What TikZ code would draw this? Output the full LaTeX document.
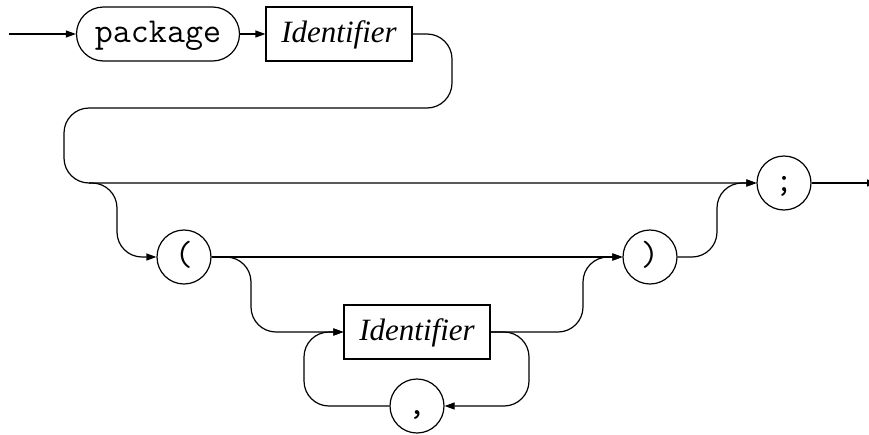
\documentclass[tikz,border=0pt]{standalone}
\usepackage{fontspec}
\newfontfamily\idfont{Liberation Serif}
\usetikzlibrary{arrows.meta}
\begin{document}
\begin{tikzpicture}[x=1pt, y=-1pt, line width=1.2pt,
  >={Triangle[length=10pt,width=7pt]},
  txt/.style={text height=22pt, text depth=6pt, inner sep=0pt},
  term/.style={txt, draw, circle, minimum size=54pt,
    font=\ttfamily\fontsize{35}{35}\selectfont},
  keyword/.style={txt, draw, rounded corners=27pt, minimum width=163pt,
    minimum height=54pt, font=\ttfamily\fontsize{35}{35}\selectfont},
  nonterm/.style={txt, draw, rectangle, minimum width=146pt,
    minimum height=54pt, font=\idfont\itshape\fontsize{31}{31}\selectfont},
  rail/.style={rounded corners=25pt}]
  \useasboundingbox (0,0) rectangle (869,434);
  \clip (0,0) rectangle (869,434);

  % symbols of the rule
  \node[keyword] (pkg)   at (158,34)  {package};
  \node[nonterm] (id1)   at (339,34)  {Identifier};
  \node[term]    (semi)  at (784,183) {;};
  \node[term]    (lp)    at (184,257) {(};
  \node[term]    (rp)    at (650,257) {)};
  \node[nonterm] (id2)   at (417,332) {Identifier};
  \node[term]    (comma) at (417,406) {,};

  \coordinate (in)  at (9,34);
  \coordinate (out) at (877,183);
  \coordinate (j1)  at (89,183);

  % main track
  \draw[->] (in) -- (pkg);
  \draw[->] (pkg) -- (id1);
  \draw[->, rail] (id1.east) -- (452,34) -- (452,108) -- (64,108)
    -- (64,183) -- (semi.west);
  \draw[->] (semi) -- (out);

  % optional parameter list
  \draw[->, rail] (j1) -- (117,183) -- (117,257) -- (lp.west);
  \draw[->] (lp) -- (rp);
  \draw[->, rail] (lp.east) -- (251,257) -- (251,332) -- (id2.west);
  \draw[->, rail] (id2.east) -- (583,332) -- (583,257) -- (rp.west);
  \draw[->, rail] (rp.east) -- (717,257) -- (717,183) -- (semi.west);

  % comma separated repetition
  \draw[->, rail] (id2.east) -- (529,332) -- (529,406) -- (comma.east);
  \draw[->, rail] (comma.west) -- (304,406) -- (304,332) -- (id2.west);
\end{tikzpicture}
\end{document}
